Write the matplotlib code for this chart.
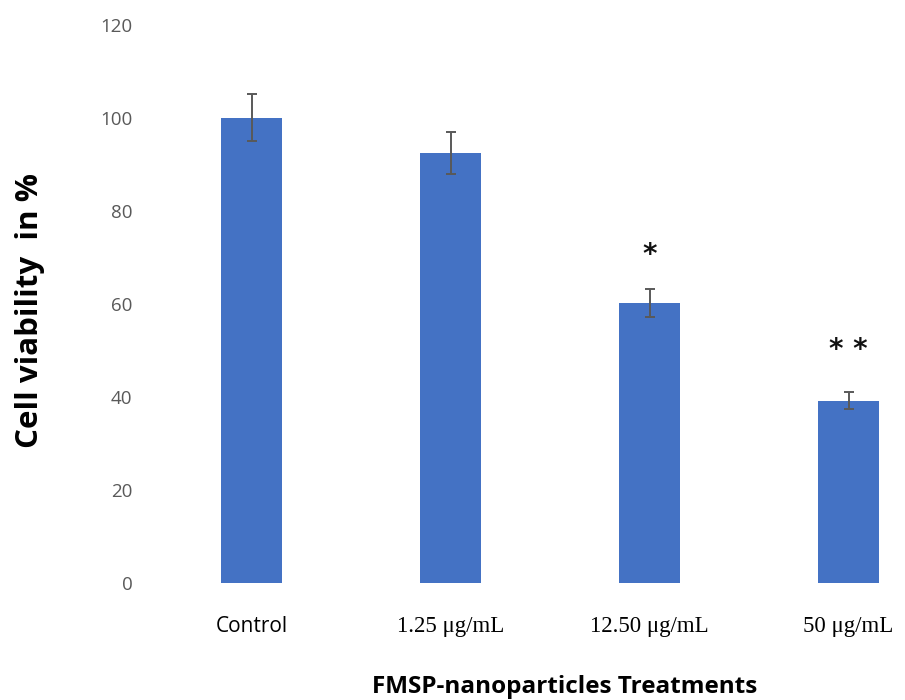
"""
Cell viability bar chart with error bars.
"""
import matplotlib
matplotlib.use('Agg')
from matplotlib import pyplot as plt

# Datos
categorias = ['Control', '1.25 μg/mL', '12.50 μg/mL', '50 μg/mL']
viabilidad = [100, 92.3, 60.2, 39.2]
errores = [5.0, 4.5, 3.0, 1.9]
marcas = ['', '', '*', '* *']
marca_y = [0, 0, 70.5, 50.0]

fig = plt.figure(figsize=(9.05, 7), dpi=100)
ax = fig.add_axes([152 / 905, 117 / 700, (905 - 152) / 905, (583 - 24.5) / 700])

x = range(len(categorias))
ax.bar(x, viabilidad, width=0.31, color='#4472C4', zorder=2)
ax.errorbar(x, viabilidad, yerr=errores, fmt='none', ecolor='#595959',
            elinewidth=1.4, capsize=3.8, capthick=1.4, zorder=3)

# Marcas de significancia
for i, m in enumerate(marcas):
    if m:
        ax.text(i, marca_y[i], m, ha='center', va='center', fontsize=20,
                fontweight='bold', color='#111111')

ax.set_xlim(-0.5, -0.5 + (905 - 152) / 199)
ax.set_ylim(0, 120)
ax.set_yticks(range(0, 121, 20))
ax.tick_params(axis='y', length=0, pad=14, labelsize=13.5, labelcolor='#595959')
ax.tick_params(axis='x', length=0, pad=24)
for lbl in ax.get_yticklabels():
    lbl.set_family('Open Sans')

ax.set_xticks(list(x))
ax.set_xticklabels(categorias)
for i, lbl in enumerate(ax.get_xticklabels()):
    if i == 0:
        lbl.set_family('Open Sans')
        lbl.set_fontsize(15)
    else:
        lbl.set_family('Liberation Serif')
        lbl.set_fontsize(16.5)

for spine in ax.spines.values():
    spine.set_visible(False)

fig.text(565 / 905, 1 - 687 / 700, 'FMSP-nanoparticles Treatments',
         ha='center', va='center', fontsize=17.5, fontweight='bold',
         family='Open Sans')
fig.text(30 / 905, 1 - 311 / 700, 'Cell viability  in %', rotation=90,
         ha='center', va='center', fontsize=22.5, fontweight='bold',
         family='Open Sans')

fig.savefig('out.png', dpi=100)
plt.close(fig)
